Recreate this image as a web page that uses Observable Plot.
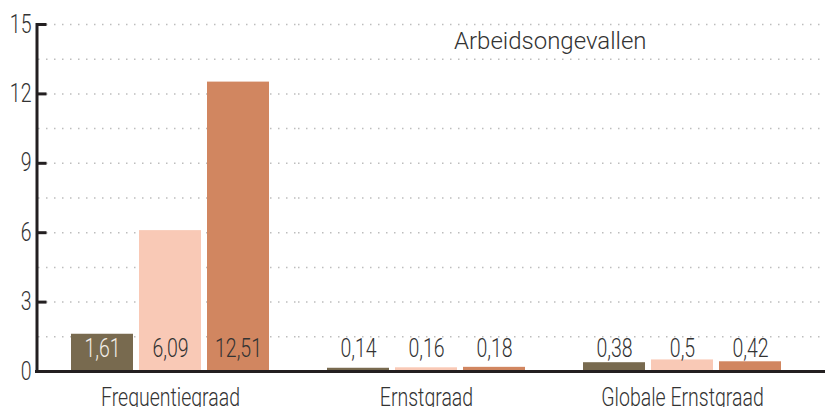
<!DOCTYPE html>
<html><head><meta charset="utf-8">
<script src="https://cdn.jsdelivr.net/npm/d3@7"></script>
<script src="https://cdn.jsdelivr.net/npm/@observablehq/plot@0.6"></script>
<style>
html,body{margin:0;padding:0;background:#fff;}
#chart{position:relative;width:825px;height:407px;overflow:hidden;}
#title{position:absolute;left:454px;top:29px;font-family:Roboto,sans-serif;font-weight:300;font-size:24px;line-height:24px;color:#333;white-space:nowrap;}
</style></head><body>
<div id="chart"><div id="title">Arbeidsongevallen</div></div>
<script>
const groups = ["Frequentiegraad", "Ernstgraad", "Globale Ernstgraad"];
const series = ["Reeks 1", "Reeks 2", "Reeks 3"];
const frequentiegraad = [1.61, 6.09, 12.51];
const ernstgraad = [0.14, 0.16, 0.18];
const globaleErnstgraad = [0.38, 0.5, 0.42];
const colors = ["#786a4f", "#f9c9b6", "#d18660"];
const yTicks = [0, 3, 6, 9, 12, 15];
const gridValues = [1.5, 3, 4.5, 6, 7.5, 9, 10.5, 12, 13.5, 15];

const valuesByGroup = [frequentiegraad, ernstgraad, globaleErnstgraad];
const data = groups.flatMap((g, gi) => series.map((s, si) => ({group: g, series: s, value: valuesByGroup[gi][si]})));

const font = "Roboto, sans-serif";
const ink = "#231f20";
const last = groups.length - 1;

const gridMarks = groups.map((g, i) => Plot.ruleY(gridValues, {
  y: d => d, fx: () => g, stroke: "#bdbdbd", strokeWidth: 1.5, strokeDasharray: "1.5,6.5",
  insetLeft: i === 0 ? -4 : 0, insetRight: i === last ? -15 : 0
}));
const baseMarks = groups.map((g, i) => Plot.ruleY([0], {
  fx: () => g, stroke: ink, strokeWidth: 3,
  insetLeft: i === 0 ? -7 : 0, insetRight: i === last ? -15 : 0
}));

const chart = Plot.plot({
  width: 825,
  height: 407,
  marginLeft: 42,
  marginRight: 15,
  marginTop: 24,
  marginBottom: 36,
  style: {fontFamily: font, fontWeight: 300, color: ink, background: "transparent"},
  fx: {domain: groups, padding: 0},
  x: {domain: series, paddingInner: 0.095, paddingOuter: 0.416, axis: null},
  y: {domain: [0, 15]},
  color: {domain: series, range: colors},
  marks: [
    ...gridMarks,
    Plot.barY(data, {fx: "group", x: "series", y: "value", fill: "series"}),
    Plot.text(data, {
      fx: "group", x: "series", frameAnchor: "bottom", lineAnchor: "middle", dy: -23,
      text: d => String(d.value).replace(".", ","),
      fill: d => (d.series === series[0] && d.value > 1.2) ? "#f3eee7" : "#333",
      fontSize: 25, fontFamily: font, fontWeight: 300
    }),
    ...baseMarks,
    Plot.frame({anchor: "left", facet: "super", insetLeft: -5.5, stroke: ink, strokeWidth: 3}),
    Plot.axisY(yTicks, {anchor: "left", tickSize: 9, tickPadding: 6.5, dx: 4.5, strokeWidth: 3, fontSize: 25, fontFamily: font, fontWeight: 300, color: "#333", stroke: ink, label: null}),
    Plot.axisFx({anchor: "bottom", tickSize: 0, tickPadding: 17, fontSize: 25, fontFamily: font, fontWeight: 300, color: "#333", label: null})
  ]
});
document.getElementById("chart").prepend(chart);

// condensed look: compress glyphs horizontally while keeping each text anchored in place
chart.querySelectorAll("text").forEach(t => {
  const w = t.getComputedTextLength();
  if (w > 0) {
    t.setAttribute("textLength", (w * 0.78).toFixed(2));
    t.setAttribute("lengthAdjust", "spacingAndGlyphs");
  }
});
</script>
</body></html>
